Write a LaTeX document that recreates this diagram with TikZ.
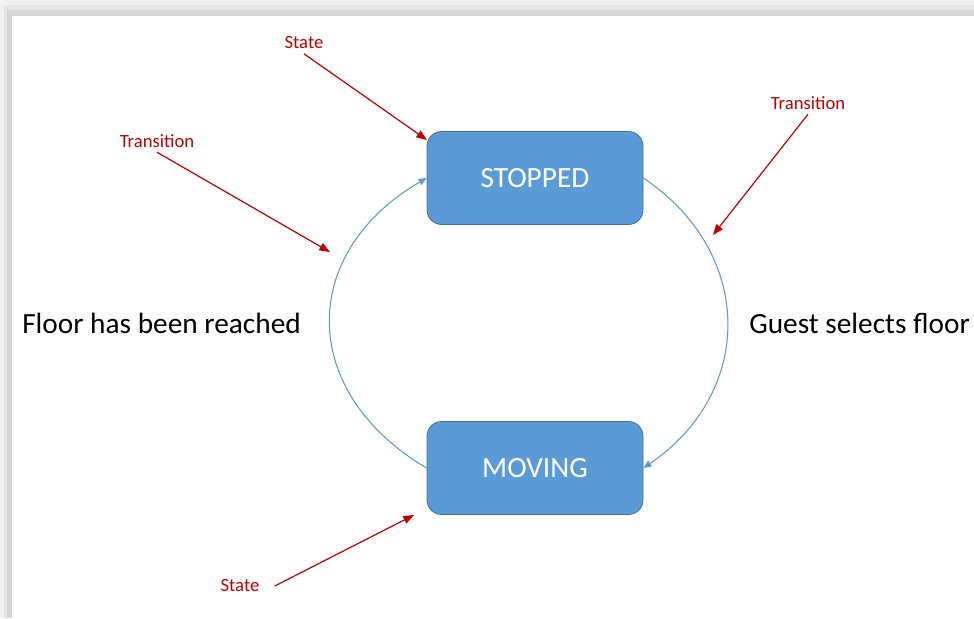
\documentclass[tikz,border=0pt]{standalone}
\usepackage{fontspec}
\setmainfont{Carlito}
\usetikzlibrary{arrows.meta}

\definecolor{boxblue}{HTML}{5B9BD5}
\definecolor{boxedge}{HTML}{41719C}
\definecolor{notered}{HTML}{C00000}

\tikzset{
  statebox/.style={draw=boxedge, fill=boxblue, rounded corners=11pt, minimum width=162pt,
    minimum height=69.75pt, text=white, font=\fontsize{22}{26}\selectfont, line width=0.6pt},
  move/.style={draw=boxblue, line width=0.8pt, -{Triangle[length=6pt,width=5pt]}},
  note/.style={text=notered, font=\fontsize{14}{16}\selectfont},
  pointer/.style={draw=notered, line width=0.9pt, -{Triangle[length=8pt,width=6pt]}},
  caption/.style={inner sep=0pt, font=\fontsize{22}{26}\selectfont}
}

\begin{document}
\begin{tikzpicture}[x=0.75pt, y=-0.75pt]
    \useasboundingbox (0,0) rectangle (974,618);

    % Window shadow
    \fill[gray!12] (0,0) rectangle (974,618);
    \fill[gray!20] (4,5) rectangle (974,618);
    \fill[gray!32] (7,10) rectangle (974,618);
    \fill[white] (12,16) rectangle (974,618);

    % States
    \node[statebox] (stopped) at (535,178) {STOPPED};
    \node[statebox] (moving) at (535,468) {MOVING};

    % Transitions
    \draw[move] (moving.west) .. controls (298,392) and (298,253) .. (stopped.west);
    \draw[move] (stopped.east) .. controls (755,253) and (755,392) .. (moving.east);

    % Events
    \node[caption, anchor=west] (reached) at (22,323) {Floor has been reached};
    \node[caption, anchor=west] (selects) at (749,323) {Guest selects floor};

    % Red notes
    \node[note] (stateTop) at (304,43) {State};
    \node[note] (transLeft) at (157,141) {Transition};
    \node[note] (transRight) at (808,103) {Transition};
    \node[note] (stateBot) at (240,586) {State};

    \coordinate (stateTopTip) at (427,140);
    \coordinate (transLeftTip) at (330,252);
    \coordinate (transRightTip) at (713,235);
    \coordinate (stateBotTip) at (414,515);

    \draw[pointer] (stateTop.south) -- (stateTopTip);
    \draw[pointer] (transLeft.south) -- (transLeftTip);
    \draw[pointer] (transRight.south) -- (transRightTip);
    \draw[pointer] ([xshift=8pt]stateBot.east) -- (stateBotTip);
\end{tikzpicture}
\end{document}
